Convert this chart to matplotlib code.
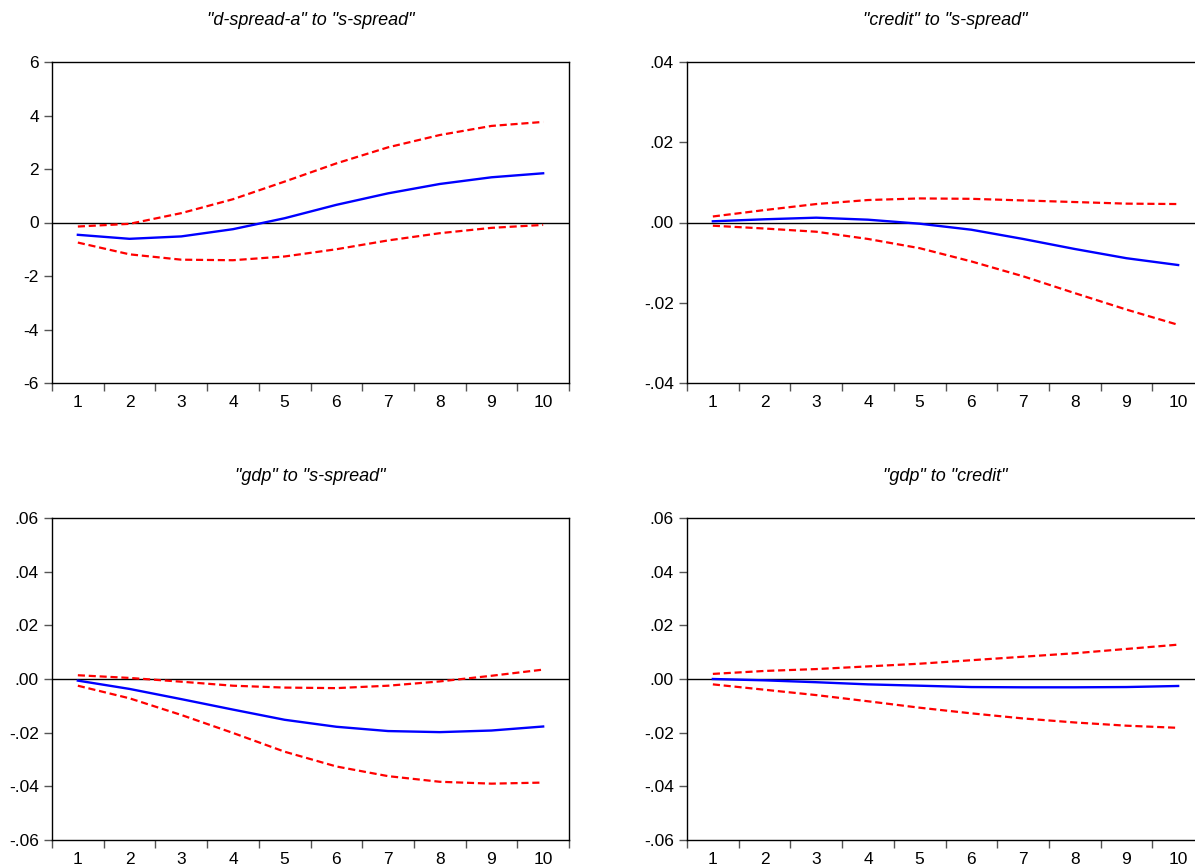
import matplotlib
matplotlib.use("Agg")
import matplotlib.pyplot as plt
from matplotlib.ticker import FuncFormatter

plt.rcParams['font.family'] = ['Liberation Sans', 'DejaVu Sans']

periods = [1, 2, 3, 4, 5, 6, 7, 8, 9, 10]

# "d-spread-a" to "s-spread"
dsa_resp = [-0.46, -0.61, -0.52, -0.25, 0.16, 0.66, 1.09, 1.44, 1.69, 1.84]
dsa_upper = [-0.15, -0.05, 0.35, 0.87, 1.53, 2.21, 2.81, 3.27, 3.61, 3.76]
dsa_lower = [-0.75, -1.19, -1.39, -1.41, -1.27, -1.00, -0.67, -0.40, -0.20, -0.09]

# "credit" to "s-spread"
cr_resp = [0.0003, 0.0008, 0.0012, 0.0007, -0.0003, -0.0018, -0.0041, -0.0066, -0.0089, -0.0106]
cr_upper = [0.0015, 0.0031, 0.0046, 0.0056, 0.0060, 0.0059, 0.0055, 0.0051, 0.0047, 0.0046]
cr_lower = [-0.0008, -0.0015, -0.0023, -0.0041, -0.0064, -0.0097, -0.0134, -0.0176, -0.0217, -0.0255]

# "gdp" to "s-spread"
gs_resp = [-0.0006, -0.0037, -0.0075, -0.0114, -0.0152, -0.0178, -0.0194, -0.0198, -0.0192, -0.0177]
gs_upper = [0.0014, 0.0004, -0.0010, -0.0025, -0.0032, -0.0034, -0.0025, -0.0009, 0.0012, 0.0035]
gs_lower = [-0.0025, -0.0072, -0.0134, -0.0201, -0.0271, -0.0326, -0.0362, -0.0383, -0.0390, -0.0386]

# "gdp" to "credit"
gc_resp = [0.0000, -0.0005, -0.0012, -0.0020, -0.0025, -0.0030, -0.0031, -0.0031, -0.0030, -0.0026]
gc_upper = [0.0019, 0.0030, 0.0037, 0.0047, 0.0057, 0.0070, 0.0083, 0.0096, 0.0112, 0.0128]
gc_lower = [-0.0020, -0.0040, -0.0060, -0.0083, -0.0107, -0.0128, -0.0147, -0.0162, -0.0174, -0.0182]

titles = ['"d-spread-a" to "s-spread"', '"credit" to "s-spread"',
          '"gdp" to "s-spread"', '"gdp" to "credit"']
resp = [dsa_resp, cr_resp, gs_resp, gc_resp]
upper = [dsa_upper, cr_upper, gs_upper, gc_upper]
lower = [dsa_lower, cr_lower, gs_lower, gc_lower]
yticks = [[-6, -4, -2, 0, 2, 4, 6],
          [-0.04, -0.02, 0.0, 0.02, 0.04],
          [-0.06, -0.04, -0.02, 0.0, 0.02, 0.04, 0.06],
          [-0.06, -0.04, -0.02, 0.0, 0.02, 0.04, 0.06]]


def eviews_fmt(v, pos):
    if abs(v) < 1e-12:
        return ".00"
    s = "%.2f" % v
    return s.replace("0.", ".")


def int_fmt(v, pos):
    return "%d" % round(v)


fig = plt.figure(figsize=(11.95, 8.65), dpi=100)
W, H = 1195.0, 865.0
# pixel boxes: left, top, width, height
boxes = [(52, 62, 517, 321), (687, 62, 517, 321),
         (52, 518, 517, 322), (687, 518, 517, 322)]

for i in range(4):
    l, t, w, h = boxes[i]
    ax = fig.add_axes([l / W, (H - t - h) / H, w / W, h / H])
    ax.axhline(0, color='black', lw=1.0)
    ax.plot(periods, resp[i], color='#0000ff', lw=1.7)
    ax.plot(periods, upper[i], color='#ff0000', lw=1.6, dashes=(3.2, 1.7))
    ax.plot(periods, lower[i], color='#ff0000', lw=1.6, dashes=(3.2, 1.7))

    ax.set_xlim(0.5, 10.5)
    ax.set_ylim(yticks[i][0], yticks[i][-1])
    ax.set_yticks(yticks[i])
    if i == 0:
        ax.yaxis.set_major_formatter(FuncFormatter(int_fmt))
    else:
        ax.yaxis.set_major_formatter(FuncFormatter(eviews_fmt))

    # tick marks between periods, labels on the periods
    ax.set_xticks([p + 0.5 for p in [0] + periods])
    ax.set_xticklabels([])
    ax.set_xticks(periods, minor=True)
    ax.set_xticklabels([str(p) for p in periods], minor=True)
    ax.tick_params(axis='x', which='major', direction='out', length=6,
                   width=1, color='#555555')
    ax.tick_params(axis='x', which='minor', length=0, pad=8.5, labelsize=12.5)
    ax.tick_params(axis='y', direction='out', length=6, width=1,
                   color='#555555', pad=3.5, labelsize=12.5)

    for sp in ax.spines.values():
        sp.set_linewidth(1.0)
        sp.set_color('black')

    ax.set_title(titles[i], fontsize=13, style='italic', pad=26.5)

fig.savefig('out.png', dpi=100)
